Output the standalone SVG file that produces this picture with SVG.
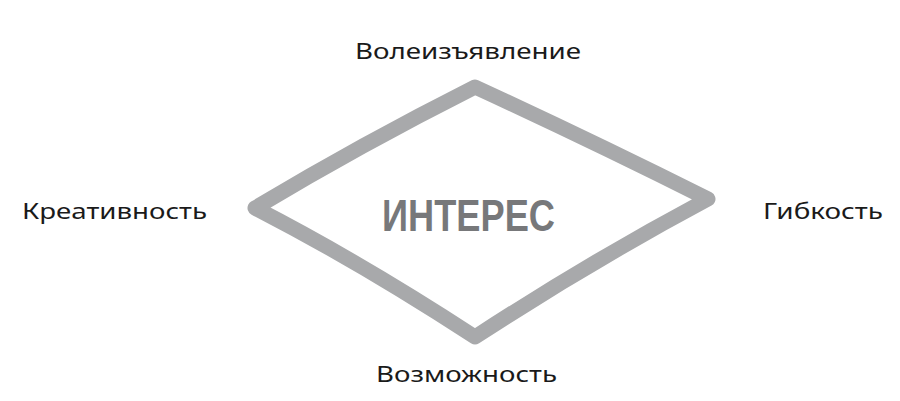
<svg xmlns="http://www.w3.org/2000/svg" width="900" height="401" viewBox="0 0 900 401">
<style>
.lbl{font-family:"Noto Sans","DejaVu Sans",sans-serif;font-size:22px;fill:#1a1a1a}
.core{font-family:"Liberation Sans",Arial,sans-serif;font-size:45px;font-weight:bold;fill:#77787a}
.rim{fill:none;stroke:#a8a9ab;stroke-width:15;stroke-linejoin:round;stroke-linecap:round}
</style>
<rect width="900" height="401" fill="#ffffff"/>
<g id="interes">
<path class="rim" d="M475,87 Q590,140 708,199 Q590,262 475,337 Q360,262 255,208 Q360,145 475,87 Z"/>
<text class="core" x="382" y="231" textLength="173" lengthAdjust="spacingAndGlyphs">ИНТЕРЕС</text>
</g>
<g id="volia"><text class="lbl" x="355" y="59" textLength="226" lengthAdjust="spacingAndGlyphs">Волеизъявление</text></g>
<g id="kreativnost"><text class="lbl" x="22" y="219" textLength="185" lengthAdjust="spacingAndGlyphs">Креативность</text></g>
<g id="gibkost"><text class="lbl" x="763" y="219" textLength="120" lengthAdjust="spacingAndGlyphs">Гибкость</text></g>
<g id="vozmozhnost"><text class="lbl" x="376" y="382" textLength="181" lengthAdjust="spacingAndGlyphs">Возможность</text></g>
<g id="connectors"></g>
</svg>
